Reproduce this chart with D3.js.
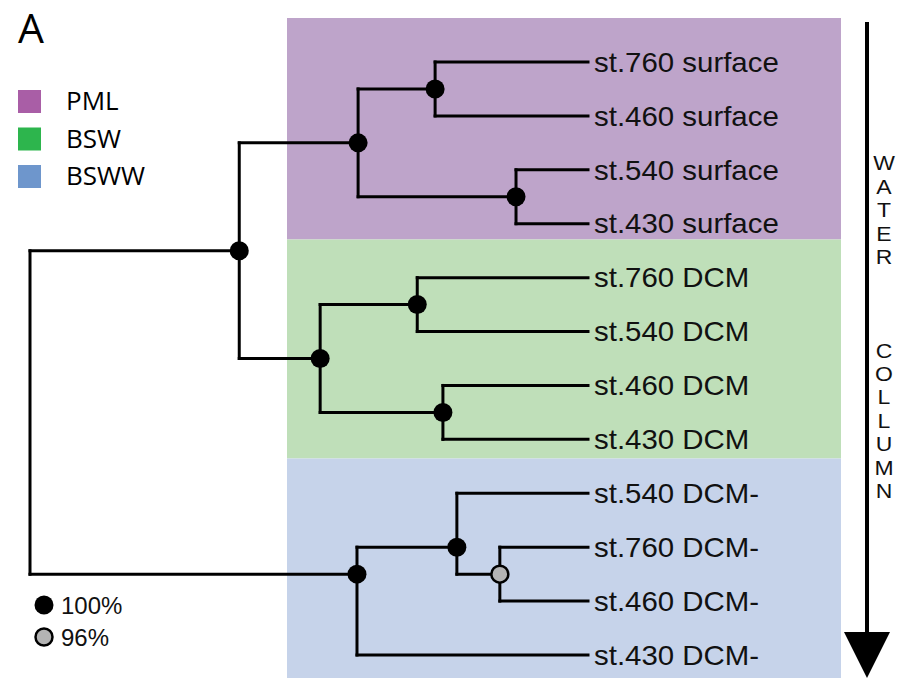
<!DOCTYPE html>
<html>
<head>
<meta charset="utf-8">
<script src="https://cdn.jsdelivr.net/npm/d3@7"></script>
<style>
  html, body { margin: 0; padding: 0; background: #fff; }
  svg { display: block; }
</style>
</head>
<body>
<svg id="chart" width="914" height="684"></svg>
<script>
// ---------- DATA ----------
const leafLabels = [
  "st.760 surface", "st.460 surface", "st.540 surface", "st.430 surface",
  "st.760 DCM", "st.540 DCM", "st.460 DCM", "st.430 DCM",
  "st.540 DCM-", "st.760 DCM-", "st.460 DCM-", "st.430 DCM-"
];
// internal nodes: id, parent, distance from root (tips = 1), bootstrap support
const nodeIds      = ["root", "n7",  "n3",  "n1",  "n2",  "n6",  "n4",  "n5",  "n10", "n9",  "n8"];
const nodeParents  = [null,   "root","n7",  "n3",  "n3",  "n7",  "n6",  "n6",  "root","n10", "n9"];
const nodeDepths   = [0,      0.375, 0.588, 0.726, 0.871, 0.520, 0.694, 0.740, 0.586, 0.765, 0.842];
const nodeSupport  = [null,   100,   100,   100,   100,   100,   100,   100,   100,   100,   96];
// parent of each leaf (same order as leafLabels)
const leafParents  = ["n1","n1","n2","n2","n4","n4","n5","n5","n9","n8","n8","n10"];

const groupNames   = ["PML", "BSW", "BSWW"];
const groupColors  = ["#a95ea6", "#2db54d", "#6e96cc"];
const panelColors  = ["#bea4ca", "#bfdfb9", "#c6d3ea"];
const supportLevels = ["100%", "96%"];
const supportFills  = ["#000000", "#b4b4b4"];
const sideLabel = "WATER   COLLUMN";

// ---------- BUILD TREE ----------
const rows = [];
nodeIds.forEach((id, i) => rows.push({id, parent: nodeParents[i], depth: nodeDepths[i], support: nodeSupport[i], leaf: false}));
leafLabels.forEach((lab, i) => rows.push({id: lab, parent: leafParents[i], depth: 1, leaf: true, order: i}));
const root = d3.stratify().id(d => d.id).parentId(d => d.parent)(rows);
root.each(n => { if (n.children) n.children.sort((a, b) => d3.min(a.leaves(), l => l.data.order) - d3.min(b.leaves(), l => l.data.order)); });

const svg = d3.select("#chart");
const x = d3.scaleLinear().domain([0, 1]).range([30, 588]);
const y = d3.scaleLinear().domain([0, leafLabels.length - 1]).range([62, 655]);

root.each(n => {
  n.px = x(n.data.depth);
  n.py = d3.mean(n.leaves(), l => y(l.data.order));
});

// ---------- PANELS ----------
const panelEdges = [18, 239.5, 458.5, 678];
panelColors.forEach((c, i) => {
  svg.append("rect")
    .attr("x", 287).attr("y", panelEdges[i])
    .attr("width", 554).attr("height", panelEdges[i + 1] - panelEdges[i])
    .attr("fill", c);
});

// ---------- BRANCHES ----------
const g = svg.append("g");
root.descendants().forEach(n => {
  if (!n.children) return;
  const ys = n.children.map(c => c.py);
  g.append("line")
    .attr("x1", n.px).attr("x2", n.px)
    .attr("y1", d3.min(ys)).attr("y2", d3.max(ys))
    .attr("stroke", "#000").attr("stroke-width", 3).attr("stroke-linecap", "square");
  n.children.forEach(c => {
    g.append("line")
      .attr("x1", n.px).attr("x2", c.px)
      .attr("y1", c.py).attr("y2", c.py)
      .attr("stroke", "#000").attr("stroke-width", 3).attr("stroke-linecap", "square");
  });
});

// ---------- NODES ----------
root.descendants().filter(n => n.children && n.data.support != null).forEach(n => {
  const gray = n.data.support < 100;
  g.append("circle")
    .attr("cx", n.px).attr("cy", n.py)
    .attr("r", gray ? 8.5 : 9.5)
    .attr("fill", gray ? supportFills[1] : supportFills[0])
    .attr("stroke", "#000").attr("stroke-width", gray ? 2.5 : 0);
});

// ---------- LEAF LABELS ----------
root.leaves().forEach(l => {
  svg.append("text")
    .attr("transform", `translate(594,${l.py}) scale(1.09,1)`)
    .attr("dy", "0.36em")
    .attr("font-family", "'Liberation Sans', Arial, Helvetica, sans-serif")
    .attr("font-size", 27)
    .attr("fill", "#111")
    .text(l.data.id);
});

// ---------- PANEL LETTER ----------
svg.append("text")
  .attr("x", 18).attr("y", 43)
  .attr("font-family", "'Open Sans', sans-serif")
  .attr("font-size", 41)
  .attr("fill", "#000")
  .text("A");

// ---------- GROUP LEGEND ----------
groupNames.forEach((name, i) => {
  const cy = 101 + i * 37.5;
  svg.append("rect")
    .attr("x", 18).attr("y", cy - 11).attr("width", 23).attr("height", 23)
    .attr("fill", groupColors[i]);
  svg.append("text")
    .attr("x", 66).attr("y", cy + 9)
    .attr("font-family", "'Open Sans', sans-serif")
    .attr("font-size", 26)
    .attr("fill", "#000")
    .text(name);
});

// ---------- SUPPORT LEGEND ----------
supportLevels.forEach((lab, i) => {
  const cy = 605 + i * 32;
  svg.append("circle")
    .attr("cx", 44).attr("cy", cy)
    .attr("r", i === 0 ? 9.5 : 8.5)
    .attr("fill", supportFills[i])
    .attr("stroke", "#000").attr("stroke-width", i === 0 ? 0 : 2.5);
  svg.append("text")
    .attr("x", 61).attr("y", cy + 8.5)
    .attr("font-family", "'Liberation Sans', Arial, sans-serif")
    .attr("font-size", 24)
    .attr("fill", "#111")
    .text(lab);
});

// ---------- WATER COLUMN ARROW ----------
svg.append("line")
  .attr("x1", 867).attr("x2", 867).attr("y1", 22).attr("y2", 636)
  .attr("stroke", "#000").attr("stroke-width", 4);
svg.append("path")
  .attr("d", "M844,632 L890,632 L867,678 Z")
  .attr("fill", "#000");
sideLabel.split("").forEach((ch, i) => {
  if (ch === " ") return;
  svg.append("text")
    .attr("transform", `translate(884,${163 + i * 23.4}) scale(1.12,1)`)
    .attr("dy", "0.36em")
    .attr("text-anchor", "middle")
    .attr("font-family", "'Liberation Sans', Arial, sans-serif")
    .attr("font-size", 20.5)
    .attr("fill", "#111")
    .text(ch);
});
</script>
</body>
</html>
